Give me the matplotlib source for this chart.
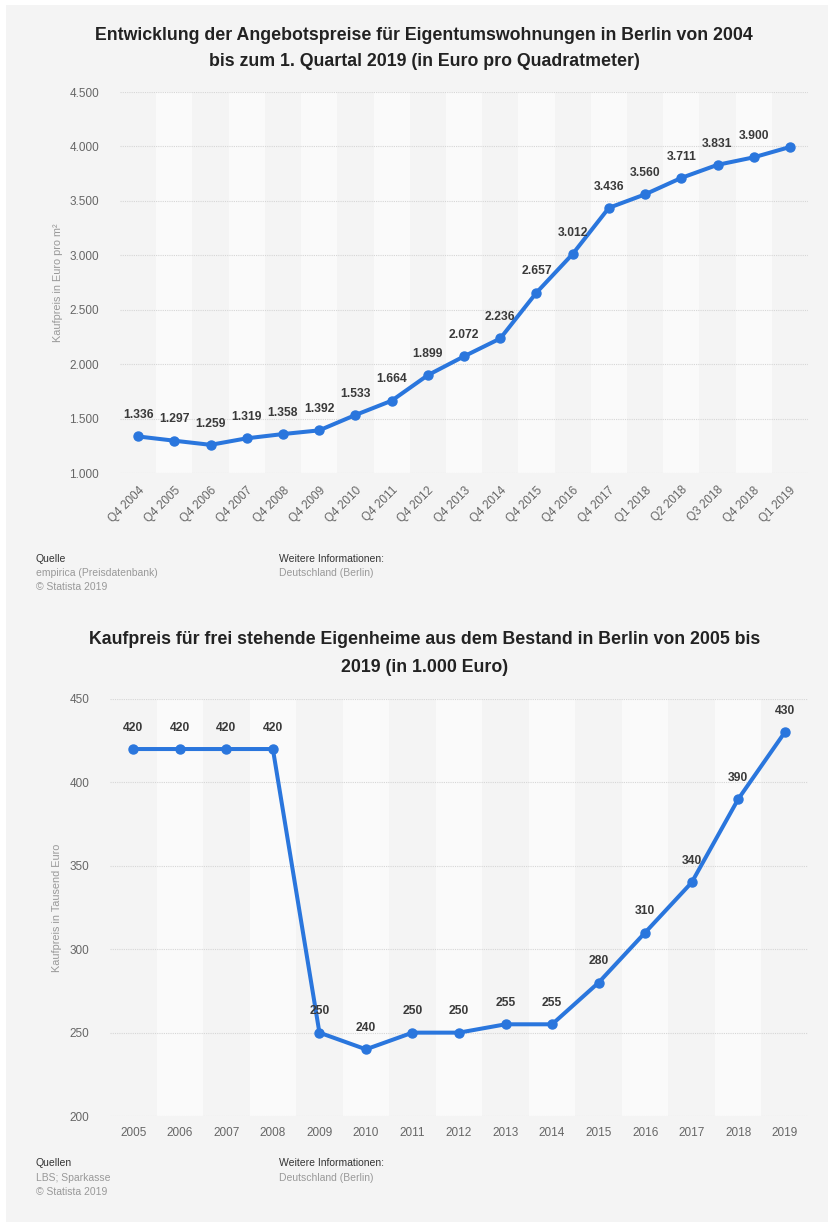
import matplotlib.pyplot as plt
import numpy as np

plt.rcParams['font.family'] = ['Liberation Sans', 'DejaVu Sans']

# chart 1: Angebotspreise Eigentumswohnungen (Euro pro m²)
periods1 = ['Q4 2004', 'Q4 2005', 'Q4 2006', 'Q4 2007', 'Q4 2008', 'Q4 2009',
            'Q4 2010', 'Q4 2011', 'Q4 2012', 'Q4 2013', 'Q4 2014', 'Q4 2015',
            'Q4 2016', 'Q4 2017', 'Q1 2018', 'Q2 2018', 'Q3 2018', 'Q4 2018',
            'Q1 2019']
prices1 = [1336, 1297, 1259, 1319, 1358, 1392, 1533, 1664, 1899, 2072, 2236,
           2657, 3012, 3436, 3560, 3711, 3831, 3900, 3995]
labels1 = ['1.336', '1.297', '1.259', '1.319', '1.358', '1.392', '1.533',
           '1.664', '1.899', '2.072', '2.236', '2.657', '3.012', '3.436',
           '3.560', '3.711', '3.831', '3.900', '']
yticks1 = [1000, 1500, 2000, 2500, 3000, 3500, 4000, 4500]

# chart 2: Kaufpreis frei stehende Eigenheime (in 1.000 Euro)
years2 = ['2005', '2006', '2007', '2008', '2009', '2010', '2011', '2012',
          '2013', '2014', '2015', '2016', '2017', '2018', '2019']
prices2 = [420, 420, 420, 420, 250, 240, 250, 250, 255, 255, 280, 310, 340, 390, 430]
yticks2 = [200, 250, 300, 350, 400, 450]

BG = '#f4f4f4'
BAND = '#fafafa'
BLUE = '#2a76dd'
GRID = '#d6d6d6'


def fmt_de(v):
	return '{:,}'.format(v).replace(',', '.')


def draw_chart(ax, cats, vals, labels, yticks, ylabel, rot):
	n = len(cats)
	x = np.arange(n)
	ymin, ymax = yticks[0], yticks[-1]
	ax.set_facecolor(BG)
	# alternating column bands
	for i in range(n):
		if i % 2 == 1:
			ax.axvspan(i - 0.5, i + 0.5, ymin=0, ymax=1, color=BAND, zorder=0, lw=0)
	for t in yticks:
		ax.axhline(t, color=GRID, linestyle=(0, (1, 1)), linewidth=0.8, zorder=1)
	ax.plot(x, vals, color=BLUE, linewidth=2.9, marker='o', markersize=6.5, zorder=3,
	        solid_joinstyle='round', solid_capstyle='round')
	for xi, v, lab in zip(x, vals, labels):
		ax.annotate(lab, (xi, v), xytext=(0, 11), textcoords='offset points',
		            ha='center', va='bottom', fontsize=8.7, fontweight='bold', color='#3a3a3a')
	ax.set_xlim(-0.5, n - 0.5)
	ax.set_ylim(ymin, ymax)
	ax.set_yticks(yticks)
	ax.set_yticklabels([fmt_de(t) for t in yticks], fontsize=8.5, color='#666666')
	ax.set_xticks(x)
	if rot:
		ax.set_xticklabels(cats, rotation=45, ha='right', rotation_mode='anchor',
		                   fontsize=8.5, color='#666666')
	else:
		ax.set_xticklabels(cats, fontsize=8.5, color='#666666')
	ax.tick_params(length=0, axis='y', pad=15)
	ax.tick_params(length=0, axis='x', pad=8)
	for s in ax.spines.values():
		s.set_visible(False)
	ax.set_ylabel(ylabel, fontsize=7.8, color='#999999', labelpad=5)


fig = plt.figure(figsize=(8.29, 12.22), dpi=100)
fig.patch.set_facecolor('white')
panel = fig.add_axes([0.007, 0.0, 0.993, 0.996])
panel.set_facecolor(BG)
panel.set_xticks([])
panel.set_yticks([])
for s in panel.spines.values():
	s.set_visible(False)
panel.set_zorder(-1)

ax1 = fig.add_axes([0.1448, 0.6129, 0.8299, 0.3118])
draw_chart(ax1, periods1, prices1, labels1, yticks1, 'Kaufpreis in Euro pro m²', True)

ax2 = fig.add_axes([0.1327, 0.0867, 0.8420, 0.3413])
draw_chart(ax2, years2, prices2, [str(v) for v in prices2], yticks2, 'Kaufpreis in Tausend Euro', False)

H = 1222.0


def ftext(x, y, s, **kw):
	fig.text(x / 829.0, 1 - y / H, s, **kw)


# titles
tkw = dict(ha='center', va='center', fontsize=12.8, fontweight='bold', color='#222222')
ftext(424, 35, 'Entwicklung der Angebotspreise für Eigentumswohnungen in Berlin von 2004', **tkw)
ftext(424, 62, 'bis zum 1. Quartal 2019 (in Euro pro Quadratmeter)', **tkw)
ftext(425, 640, 'Kaufpreis für frei stehende Eigenheime aus dem Bestand in Berlin von 2005 bis', **tkw)
ftext(425, 667, '2019 (in 1.000 Euro)', **tkw)

# footers
hkw = dict(ha='left', va='center', fontsize=7.5, color='#333333')
gkw = dict(ha='left', va='center', fontsize=7.5, color='#999999')
ftext(36, 559, 'Quelle', **hkw)
ftext(36, 573, 'empirica (Preisdatenbank)', **gkw)
ftext(36, 587, '© Statista 2019', **gkw)
ftext(279, 559, 'Weitere Informationen:', **hkw)
ftext(279, 573, 'Deutschland (Berlin)', **gkw)

ftext(36, 1163, 'Quellen', **hkw)
ftext(36, 1178, 'LBS; Sparkasse', **gkw)
ftext(36, 1192, '© Statista 2019', **gkw)
ftext(279, 1163, 'Weitere Informationen:', **hkw)
ftext(279, 1178, 'Deutschland (Berlin)', **gkw)

fig.savefig('out.png', dpi=100, facecolor=fig.get_facecolor())
